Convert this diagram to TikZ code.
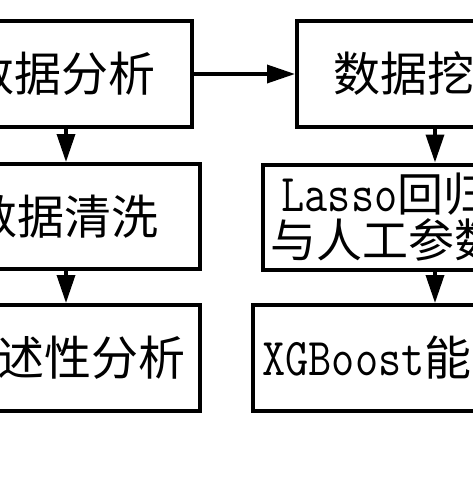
\documentclass[tikz,border=0pt]{standalone}
\usepackage{fontspec}
\usepackage{graphicx}
\newfontfamily\cjk{Noto Sans CJK SC}
\usetikzlibrary{arrows.meta}
\newcommand{\lat}[1]{\scalebox{1}[1.18]{\ttfamily\fontsize{45}{45}\selectfont #1}}
\begin{document}
\begin{tikzpicture}[x=1pt,y=-1pt,
  box/.style={draw,line width=4pt,inner sep=0pt,align=center,
    font=\cjk\fontsize{47}{45}\selectfont},
  arr/.style={line width=3.5pt,-{Triangle[length=28pt,width=18pt]}}]
\useasboundingbox (0,0) rectangle (473,477);
\fill[white] (0,0) rectangle (473,477);
\clip (0,0) rectangle (473,477);
\coordinate (lx) at (66,0);
\coordinate (rx) at (435,0);
\node[box,minimum width=260pt,minimum height=106pt] (A) at (62,74) {数据分析};
\node[box,minimum width=270pt,minimum height=105pt] (C) at (65,216.5) {数据清洗};
\node[box,minimum width=216pt,minimum height=106pt] (E) at (92,358) {述性分析};
\node[box,minimum width=213pt,minimum height=106pt] (B) at (403.5,74) {数据挖};
\node[box,minimum width=245pt,minimum height=105pt,
  font=\cjk\fontsize{46}{46}\selectfont] (D) at (385.5,217) {\lat{Lasso}回归\\与人工参数};
\node[box,minimum width=228pt,minimum height=106pt] (F) at (367,358) {\lat{XGBoost}能};
\draw[arr] (A.east) -- (B.west);
\draw[arr] (A.south -| lx) -- (C.north -| lx);
\draw[arr] (C.south -| lx) -- (E.north -| lx);
\draw[arr] (B.south -| rx) -- (D.north -| rx);
\draw[arr] (D.south -| rx) -- (F.north -| rx);
\end{tikzpicture}
\end{document}
